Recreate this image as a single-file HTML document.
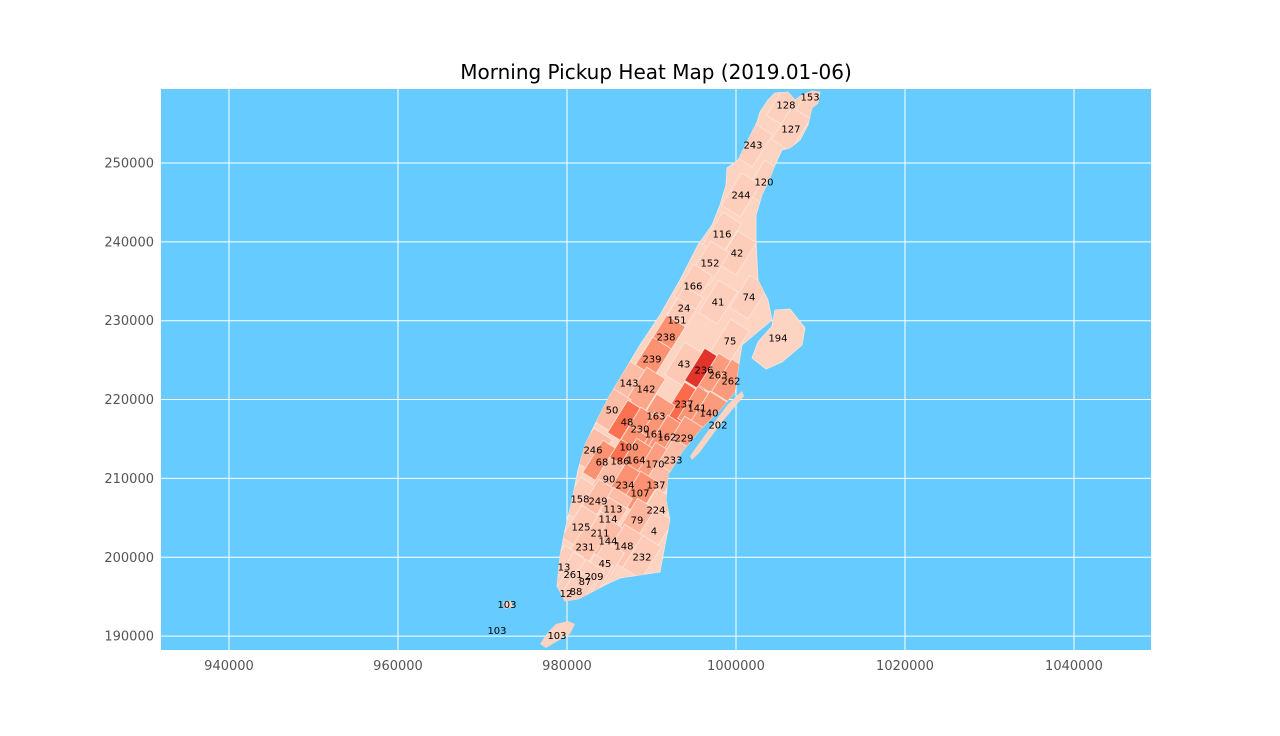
<!DOCTYPE html>
<html><head><meta charset="utf-8"><style>
body{margin:0;background:#fff;}
text{font-family:"DejaVu Sans","Liberation Sans",sans-serif;}
</style></head><body>
<svg id="chart" width="1280" height="731" viewBox="0 0 1280 731">
<defs><clipPath id="isl"><polygon id="islpoly" points="768,100 775,93 788,92 795,100 802,95 812,91 820,92 818,103 812,108 808,125 800,140 790,148 782,150 775,165 770,178 762,195 756,215 756,240 758,280 768,300 772,320 760,330 742,345 738,370 735,392 720,410 700,430 682,452 668,475 666,500 670,520 665,545 660,572 640,575 620,578 605,585 590,593 578,599 565,601 557,586 560,556 565,530 572,500 578,470 585,445 597,420 610,395 625,370 640,345 660,315 680,280 698,245 712,225 720,205 726,185 727,168 738,160 748,140 757,122 760,112"/></clipPath></defs>
<text x="656" y="79" font-size="20" text-anchor="middle" fill="#000">Morning Pickup Heat Map (2019.01-06)</text>
<rect x="161" y="89" width="990" height="561" fill="#66cbff"/>
<g id="grid"></g>
<g id="ticks"></g>
<g>
<polygon points="768,100 775,93 788,92 795,100 802,95 812,91 820,92 818,103 812,108 808,125 800,140 790,148 782,150 775,165 770,178 762,195 756,215 756,240 758,280 768,300 772,320 760,330 742,345 738,370 735,392 720,410 700,430 682,452 668,475 666,500 670,520 665,545 660,572 640,575 620,578 605,585 590,593 578,599 565,601 557,586 560,556 565,530 572,500 578,470 585,445 597,420 610,395 625,370 640,345 660,315 680,280 698,245 712,225 720,205 726,185 727,168 738,160 748,140 757,122 760,112" fill="#fdd3c1" stroke="#fbe6dc" stroke-width="0.8"/>
<polygon points="775,310 790,309 805,328 802,345 782,362 766,369 752,358 758,342 772,326" fill="#fdd3c1" stroke="#fbe6dc" stroke-width="0.8"/>
<polygon points="742,391 744,396 722,422 700,452 692,460 690,456 705,435 728,404" fill="#fdd3c1"/>
<polygon points="540,644 548,632 556,624 568,621 575,624 570,634 556,642 546,648" fill="#fdd3c1"/>
<polygon points="503,602 511,601 513,607 505,609" fill="#fdd3c1"/>
</g>
<g id="zones" clip-path="url(#isl)"></g>
<g id="labels"></g>
</svg>
<script>
const zoneIds=["153","128","127","243","120","244","116","42","152","166","74","41","24","151","238","75","194","239","43","236","263","262","143","142","237","141","140","50","163","48","202","230","161","162","229","100","246","68","186","164","170","233","90","234","137","107","158","249","113","224","114","79","125","211","4","144","148","231","232","45","13","261","209","87","12","88","103","103","103"];
const zoneX=[1008760,1005915,1006507,1002010,1003312,1000590,998342,1000117,996922,994910,1001537,997868,993845,993016,991715,999288,1004969,990058,993845,996212,997868,999407,987336,989348,993845,995383,996803,985324,990531,987099,997868,988638,990295,991833,993845,987336,983076,984141,986271,988164,990413,992543,984969,986863,990531,988638,981537,983667,985443,990531,984851,988283,981656,983904,990295,984851,986744,982129,988874,984496,979644,980709,983194,982129,979881,981064,972899,971715,978816];
const zoneY=[258375,257360,254315,252284,247589,245939,240990,238579,237310,234391,232995,232360,231599,230076,227919,227411,227792,225127,224492,223731,223096,222335,222081,221320,219417,218909,218274,218655,217893,217132,216751,216243,215609,215228,215101,213959,213579,212056,212183,212310,211802,212310,209900,209138,209138,208123,207362,207108,206093,205966,204824,204697,203808,203047,203301,202031,201397,201270,200001,199239,198732,197843,197589,196955,195432,195686,194036,190737,190103];
const zoneVal=[2,2,2,3,2,3,3,4,3,4,3,3,4,5,40,4,1,40,6,95,35,35,14,28,70,38,35,14,35,65,1,38,38,38,33,40,14,40,65,40,33,14,14,40,14,40,5,14,14,6,14,18,6,9,5,14,9,9,5,5,3,3,3,3,3,3,1,1,1];
const xTicks=[940000,960000,980000,1000000,1020000,1040000];
const yTicks=[190000,200000,210000,220000,230000,240000,250000];
const sx=x=>229+(x-940000)*169/20000;
const sy=y=>163+(250000-y)*78.85/10000;
const NS="http://www.w3.org/2000/svg";
function mk(t,a,p){const e=document.createElementNS(NS,t);for(const k in a)e.setAttribute(k,a[k]);p.appendChild(e);return e;}
const grid=document.getElementById('grid'),ticks=document.getElementById('ticks');
xTicks.forEach(v=>{const X=sx(v);
 const l=mk('line',{x1:X,x2:X,y1:89,y2:650,stroke:'#fff','stroke-width':1},grid);
 
 
 const t=mk('text',{x:X,y:670,'font-size':13,'text-anchor':'middle',fill:'#555'},ticks);t.textContent=v;
 
 });
yTicks.forEach(v=>{const Y=sy(v);
 const l=mk('line',{x1:161,x2:1151,y1:Y,y2:Y,stroke:'#fff','stroke-width':1},grid);
 
 
 const t=mk('text',{x:154,y:Y+4.5,'font-size':13,'text-anchor':'end',fill:'#555'},ticks);t.textContent=v;
 
 });
const stops=[[0,[253,211,193]],[0.4,[252,146,114]],[0.7,[251,106,74]],[1,[222,41,38]]];
function col(v){const f=Math.min(1,Math.max(0,v/100));for(let i=1;i<stops.length;i++){if(f<=stops[i][0]){const a=stops[i-1],b=stops[i],t=(f-a[0])/(b[0]-a[0]);return 'rgb('+a[1].map((c,j)=>Math.round(c+(b[1][j]-c)*t)).join(',')+')';}}return 'rgb(222,41,38)';}
const zg=document.getElementById('zones'),lg=document.getElementById('labels');
zoneIds.forEach((id,i)=>{const X=sx(zoneX[i]),Y=sy(zoneY[i]);
 if(id!=="103"&&id!=="194"&&id!=="202"){
 const r=mk('rect',{x:X-19,y:Y-11,width:38,height:22,fill:col(zoneVal[i]),stroke:'#fbe6dc','stroke-width':0.8,transform:`rotate(-58 ${X} ${Y})`},zg);
 
 }
 const t=mk('text',{x:X,y:Y+3.5,'font-size':10,'text-anchor':'middle',fill:'#000'},lg);t.textContent=id;
 
 });
</script>
</body></html>
